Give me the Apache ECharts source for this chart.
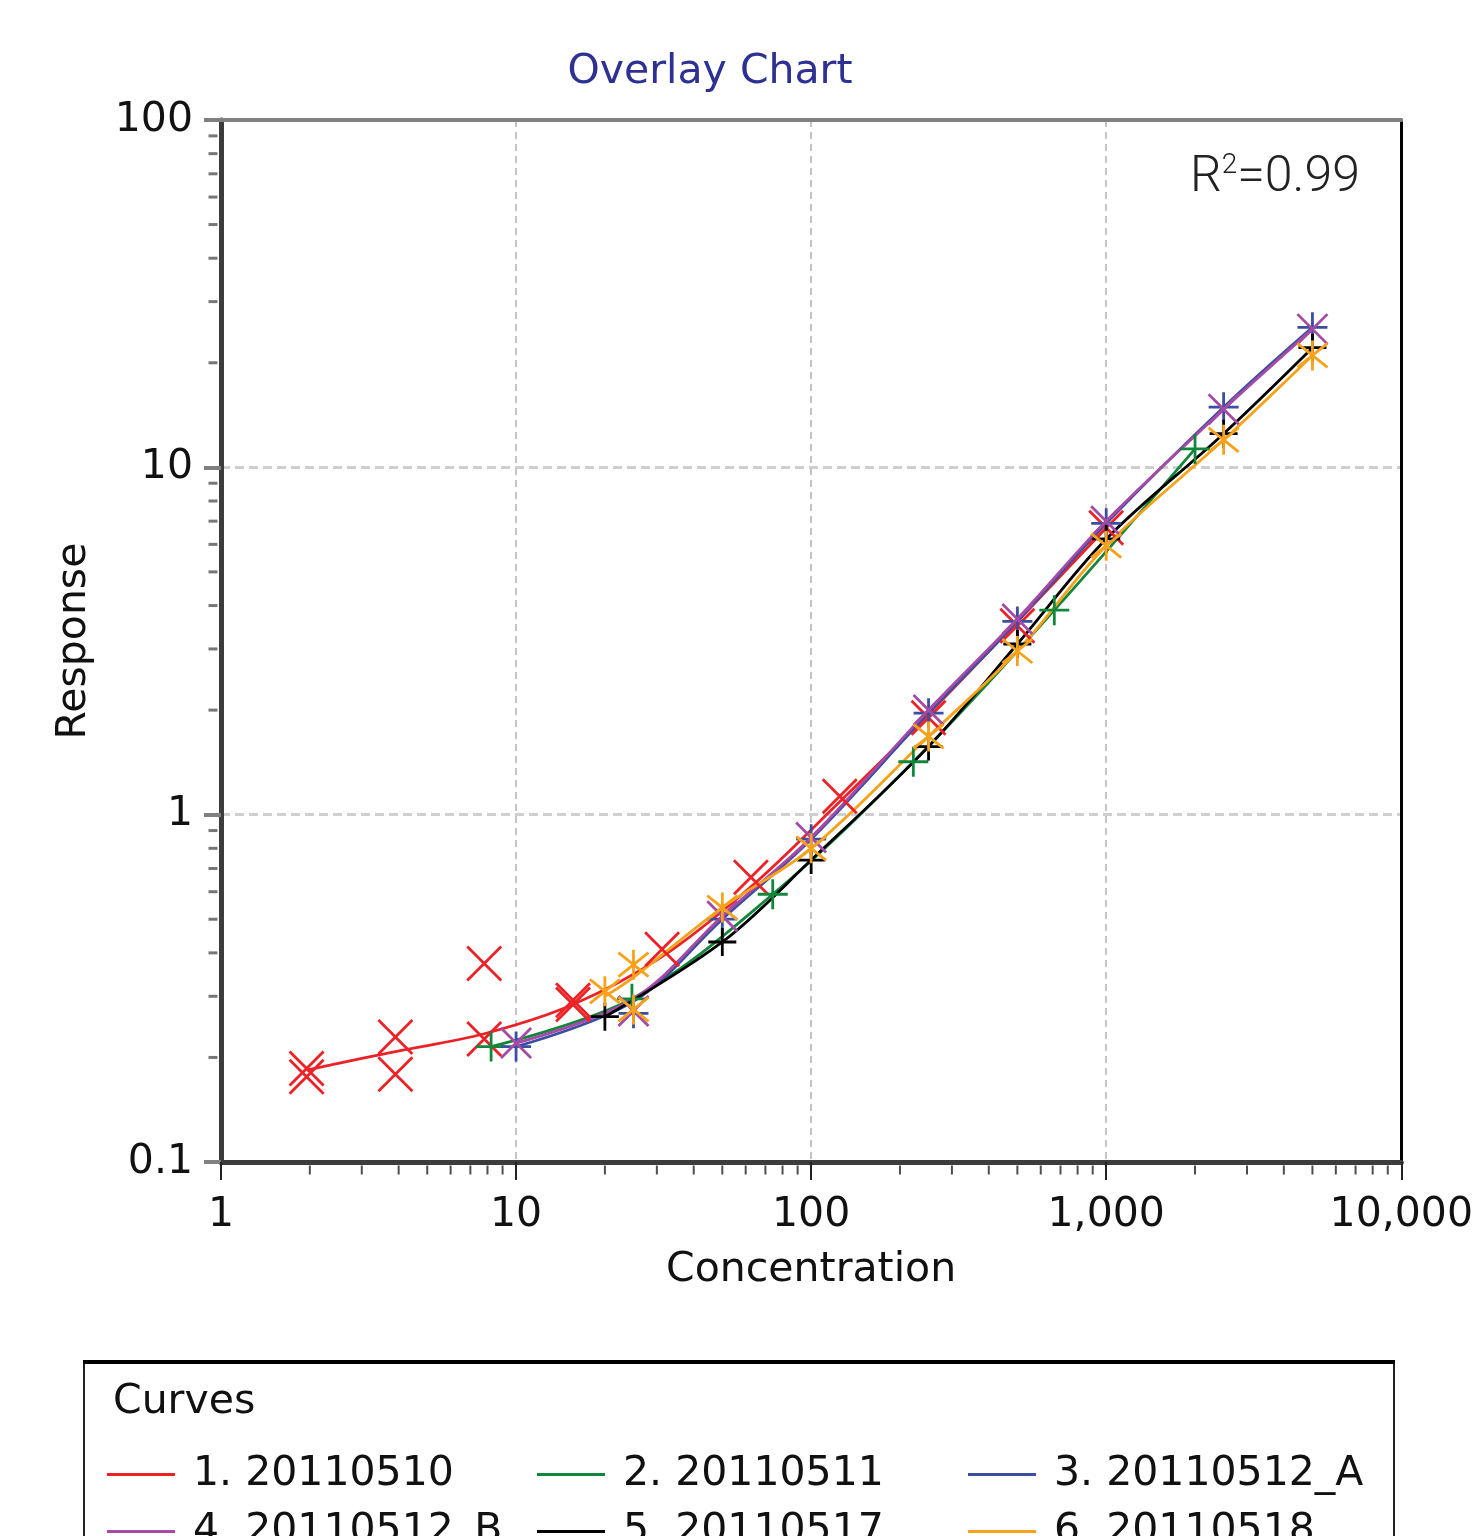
<!DOCTYPE html>
<html>
<head>
<meta charset="utf-8">
<script src="https://cdn.jsdelivr.net/npm/echarts@6/dist/echarts.min.js"></script>
<style>
html,body{margin:0;padding:0;background:#fff;}
#chart{width:1476px;height:1536px;}
</style>
</head>
<body>
<div id="chart"></div>
<script>
// ---------- DATA ----------
const SERIES_NAMES = ['1. 20110510', '2. 20110511', '3. 20110512_A', '4. 20110512_B', '5. 20110517', '6. 20110518'];

// fitted curves (concentration, response)
const CURVE_CONC_1 = [1.95, 3.9, 7.8, 15.6, 31.25, 62.5, 125, 250, 500, 1000];
const CURVE_RESP_1 = [0.184, 0.208, 0.234, 0.284, 0.39, 0.62, 1.09, 1.95, 3.6, 6.7];
const CURVE_CONC_2 = [8.23, 24.7, 74.1, 222, 667, 2000];
const CURVE_RESP_2 = [0.215, 0.295, 0.59, 1.42, 3.88, 11.3];
const CURVE_CONC_3 = [10, 25, 50, 100, 250, 500, 1000, 2500, 5000];
const CURVE_RESP_3 = [0.215, 0.29, 0.5, 0.85, 1.96, 3.6, 6.9, 14.9, 25.3];
const CURVE_CONC_4 = [10, 25, 50, 100, 250, 500, 1000, 2500, 5000];
const CURVE_RESP_4 = [0.22, 0.295, 0.51, 0.86, 2.0, 3.66, 7.0, 14.7, 25.0];
const CURVE_CONC_5 = [20, 50, 100, 250, 500, 1000, 2500, 5000];
const CURVE_RESP_5 = [0.262, 0.43, 0.74, 1.57, 3.1, 6.22, 12.5, 22.1];
const CURVE_CONC_6 = [20, 25, 50, 100, 250, 500, 1000, 2500, 5000];
const CURVE_RESP_6 = [0.3, 0.34, 0.54, 0.8, 1.68, 2.96, 5.95, 12.0, 21.0];

// measured points (replicates)
const PTS_CONC_1 = [1.95, 1.95, 3.9, 3.9, 7.8, 7.8, 15.6, 15.6, 31.25, 62.5, 125, 250, 500, 1000];
const PTS_RESP_1 = [0.186, 0.176, 0.229, 0.179, 0.373, 0.226, 0.292, 0.284, 0.41, 0.66, 1.13, 1.9, 3.5, 6.7];
const PTS_CONC_2 = [8.23, 24.7, 74.1, 222, 667, 2000];
const PTS_RESP_2 = [0.215, 0.295, 0.59, 1.42, 3.88, 11.3];
const PTS_CONC_3 = [10, 25, 50, 100, 250, 500, 1000, 2500, 5000];
const PTS_RESP_3 = [0.215, 0.268, 0.5, 0.85, 1.96, 3.6, 6.9, 14.9, 25.3];
const PTS_CONC_4 = [10, 25, 50, 100, 250, 500, 1000, 2500, 5000];
const PTS_RESP_4 = [0.22, 0.272, 0.51, 0.86, 2.0, 3.66, 7.0, 14.7, 25.0];
const PTS_CONC_5 = [20, 50, 100, 250, 500, 1000, 2500, 5000];
const PTS_RESP_5 = [0.262, 0.43, 0.74, 1.57, 3.1, 6.22, 12.5, 22.1];
const PTS_CONC_6 = [20, 25, 25, 50, 100, 250, 500, 1000, 2500, 5000];
const PTS_RESP_6 = [0.31, 0.37, 0.275, 0.54, 0.8, 1.68, 2.96, 5.95, 12.0, 21.0];

const X_TICK_LABELS = ['1', '10', '100', '1,000', '10,000'];
const Y_TICK_LABELS = ['0.1', '1', '10', '100'];

// ---------- STYLE ----------
const COLORS = ['#ec2227', '#12873c', '#3a4ea2', '#a54aa5', '#000000', '#f7a21b'];
const SYM_X = 'path://M0,0L20,20M20,0L0,20';
const SYM_PLUS = 'path://M10,0L10,20M0,10L20,10';
const SYM_AST = 'path://M2,2L18,18M18,2L2,18M10,0L10,20';
const SYMBOLS = [SYM_X, SYM_PLUS, SYM_PLUS, SYM_X, SYM_PLUS, SYM_AST];
const SYM_SIZES = [34, 30, 30, 30, 28, 30];
const FONT = 'DejaVu Sans';
// legend slot positions (left, top) for each curve
const LEGEND_POS = [[107, 1454], [537, 1454], [968, 1454], [107, 1511], [537, 1511], [968, 1511]];

const curves = [
  [CURVE_CONC_1, CURVE_RESP_1], [CURVE_CONC_2, CURVE_RESP_2], [CURVE_CONC_3, CURVE_RESP_3],
  [CURVE_CONC_4, CURVE_RESP_4], [CURVE_CONC_5, CURVE_RESP_5], [CURVE_CONC_6, CURVE_RESP_6]
];
const points = [
  [PTS_CONC_1, PTS_RESP_1], [PTS_CONC_2, PTS_RESP_2], [PTS_CONC_3, PTS_RESP_3],
  [PTS_CONC_4, PTS_RESP_4], [PTS_CONC_5, PTS_RESP_5], [PTS_CONC_6, PTS_RESP_6]
];
const zip = (a, b) => a.map((v, i) => [v, b[i]]);

// minor tick positions for log axes (2..9 per decade)
const xMinor = [], yMinor = [];
[1, 10, 100, 1000].forEach(d => { for (let k = 2; k <= 9; k++) xMinor.push([k * d, 0.1]); });
[0.1, 1, 10].forEach(d => { for (let k = 2; k <= 9; k++) yMinor.push([1, +(k * d).toPrecision(3)]); });

const series = [];
SERIES_NAMES.forEach((name, i) => {
  series.push({
    name: name, type: 'line', data: zip(curves[i][0], curves[i][1]),
    smooth: 0.35, showSymbol: false, color: COLORS[i],
    lineStyle: { width: 2.8, color: COLORS[i] }, z: 3, silent: true
  });
});
SERIES_NAMES.forEach((name, i) => {
  series.push({
    name: 'pts' + (i + 1), type: 'scatter', data: zip(points[i][0], points[i][1]),
    symbol: SYMBOLS[i], symbolSize: SYM_SIZES[i],
    itemStyle: { color: 'transparent', borderColor: COLORS[i], borderWidth: 2.8, opacity: 1 },
    z: 4, silent: true
  });
});
series.push({
  name: 'xminor', type: 'scatter', data: xMinor, symbol: 'rect', symbolSize: [2, 9],
  symbolOffset: [0, 8], clip: false, itemStyle: { color: '#222' }, z: 10, silent: true
});
series.push({
  name: 'yminor', type: 'scatter', data: yMinor, symbol: 'rect', symbolSize: [9, 3],
  symbolOffset: [-8, 0], clip: false, itemStyle: { color: '#555' }, z: 10, silent: true
});

const legends = SERIES_NAMES.map((name, i) => ({
  left: LEGEND_POS[i][0], top: LEGEND_POS[i][1], orient: 'horizontal',
  itemWidth: 68, itemHeight: 3, icon: 'rect', padding: 0, formatter: ' {name}',
  data: [name],
  textStyle: { fontSize: 41, fontFamily: FONT, color: '#111', lineHeight: 41 }
}));

const option = {
  animation: false,
  backgroundColor: '#fff',
  title: {
    text: 'Overlay Chart', left: 710, top: 52, textAlign: 'center', padding: 0,
    textStyle: { fontSize: 41, fontWeight: 'normal', fontFamily: FONT, color: '#2e3192' }
  },
  legend: legends,
  grid: { left: 221, right: 74, top: 120, bottom: 374, containLabel: false },
  xAxis: [{
    type: 'log', logBase: 10, min: 1, max: 10000,
    name: 'Concentration', nameLocation: 'middle', nameGap: 88,
    nameTextStyle: { fontSize: 41, fontFamily: FONT, color: '#111' },
    axisLine: { show: true, onZero: false, lineStyle: { color: '#3c3c3c', width: 5 } },
    axisTick: { show: true, length: 18, lineStyle: { color: '#222', width: 2 } },
    axisLabel: {
      fontSize: 41, fontFamily: FONT, color: '#111', margin: 33, lineHeight: 41,
      formatter: v => X_TICK_LABELS[Math.round(Math.log10(v))]
    },
    splitLine: { show: true, lineStyle: { color: '#c4c4c4', width: 2, type: [7, 5] } },
    minorTick: { show: false }
  }, {
    type: 'log', logBase: 10, min: 1, max: 10000, position: 'top',
    axisLine: { show: true, onZero: false, lineStyle: { color: '#808080', width: 4 } },
    axisTick: { show: false }, axisLabel: { show: false }, splitLine: { show: false }
  }],
  yAxis: [{
    type: 'log', logBase: 10, min: 0.1, max: 100,
    name: 'Response', nameLocation: 'middle', nameGap: 126,
    nameTextStyle: { fontSize: 41, fontFamily: FONT, color: '#111' },
    axisLine: { show: true, onZero: false, lineStyle: { color: '#3c3c3c', width: 5 } },
    axisTick: { show: true, length: 17, lineStyle: { color: '#808080', width: 4 } },
    axisLabel: {
      fontSize: 41, fontFamily: FONT, color: '#111', margin: 28, lineHeight: 41,
      formatter: v => Y_TICK_LABELS[Math.round(Math.log10(v)) + 1]
    },
    splitLine: { show: true, lineStyle: { color: '#cfcfcf', width: 3, type: [9, 5] } }
  }, {
    type: 'log', logBase: 10, min: 0.1, max: 100, position: 'right',
    axisLine: { show: true, onZero: false, lineStyle: { color: '#000', width: 3 } },
    axisTick: { show: false }, axisLabel: { show: false }, splitLine: { show: false }
  }],
  graphic: [
    {
      type: 'text', right: 116, top: 152,
      style: {
        text: 'R{sup|2}=0.99', fill: '#222',
        font: '300 50px Roboto',
        rich: { sup: { fontSize: 28, fontFamily: 'Roboto', fontWeight: 300, verticalAlign: 'top', padding: [0, 0, 24, 0] } }
      }
    },
    {
      type: 'rect', shape: { x: 84, y: 1362, width: 1310, height: 400 },
      style: { fill: 'none', stroke: '#222', lineWidth: 2 }
    },
    {
      type: 'line', shape: { x1: 83, y1: 1362, x2: 1395, y2: 1362 },
      style: { stroke: '#000', lineWidth: 4 }
    },
    {
      type: 'text', left: 113, top: 1382,
      style: { text: 'Curves', fill: '#111', font: '41px "DejaVu Sans"' }
    }
  ],
  series: series
};

const chart = echarts.init(document.getElementById('chart'), null, { renderer: 'canvas' });
chart.setOption(option);
</script>
</body>
</html>
